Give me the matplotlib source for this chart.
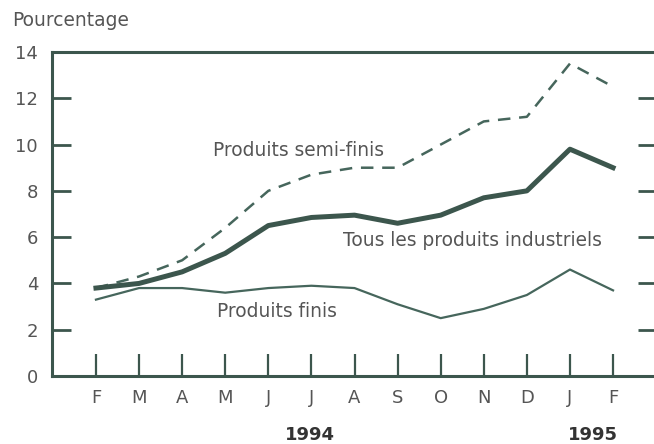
import matplotlib
matplotlib.use("Agg")
import matplotlib.pyplot as plt

months = ["F", "M", "A", "M", "J", "J", "A", "S", "O", "N", "D", "J", "F"]
tous = [3.8, 4.0, 4.5, 5.3, 6.5, 6.85, 6.95, 6.6, 6.95, 7.7, 8.0, 9.8, 9.0]
semi_finis = [3.8, 4.3, 5.0, 6.4, 8.0, 8.7, 9.0, 9.0, 10.0, 11.0, 11.2, 13.5, 12.5]
finis = [3.3, 3.8, 3.8, 3.6, 3.8, 3.9, 3.8, 3.1, 2.5, 2.9, 3.5, 4.6, 3.7]
yticks = [0, 2, 4, 6, 8, 10, 12, 14]

plt.rcParams['font.family'] = ['DejaVu Sans']
line_col = "#46665c"
axis_col = "#3c564d"
text_col = "#555555"
FS = 13.4

fig = plt.figure(figsize=(6.54, 4.44), dpi=100)
W, H = 654, 444
ax = fig.add_axes([52 / W, 1 - 376 / H, (657 - 52) / W, (376 - 52) / H])

x = list(range(len(months)))
ax.plot(x, semi_finis, color=line_col, lw=1.8, dashes=(5, 3.5))
ax.plot(x, tous, color=axis_col, lw=3.6, solid_joinstyle='round')
ax.plot(x, finis, color=line_col, lw=1.6)

ax.set_xlim(-1.02, 13.02)
ax.set_ylim(0, 14)

for s in ["left", "bottom", "top"]:
    ax.spines[s].set_color(axis_col)
    ax.spines[s].set_linewidth(2.2)
ax.spines["right"].set_visible(False)

ax.set_yticks(yticks)
ax.set_yticklabels([str(v) for v in yticks], fontsize=13, color=text_col)
ax.tick_params(axis='y', direction='in', length=14, width=2, color=axis_col,
               right=True, left=True, pad=10)
ax.set_xticks(x)
ax.set_xticklabels(months, fontsize=13, color=text_col)
ax.tick_params(axis='x', direction='in', length=16, width=1.6, color=axis_col, pad=9)
ax.set_xticks([11], minor=True)
ax.tick_params(axis='x', which='minor', direction='in', length=28, width=1.6, color=axis_col)

fig.text(12 / W, 1 - 20 / H, "Pourcentage", fontsize=FS, color=text_col, va='center', ha='left')
ax.text(2.72, 9.75, "Produits semi-finis", fontsize=FS, color=text_col, ha='left', va='center')
ax.text(5.73, 5.85, "Tous les produits industriels", fontsize=FS, color=text_col, ha='left', va='center')
ax.text(2.82, 2.8, "Produits finis", fontsize=FS, color=text_col, ha='left', va='center')
fig.text(310 / W, 1 - 435 / H, "1994", fontsize=13, color="#333333", fontweight='bold', ha='center', va='center')
fig.text(593 / W, 1 - 435 / H, "1995", fontsize=13, color="#333333", fontweight='bold', ha='center', va='center')

fig.savefig("out.png", dpi=100, facecolor="white")
